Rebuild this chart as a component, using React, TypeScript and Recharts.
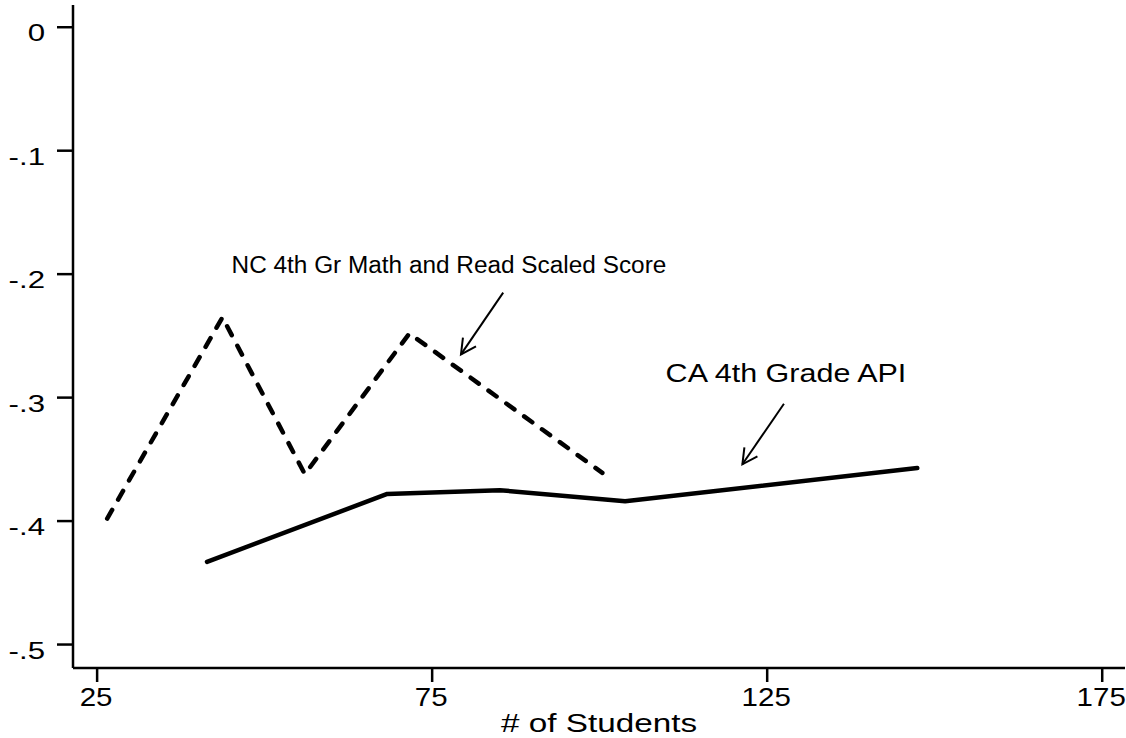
import { LineChart, Line, XAxis, YAxis, ReferenceLine, ReferenceDot } from 'recharts'

// # of students (x) vs. estimated effect (y)
const NC_X = [26.5, 43.7, 56.0, 71.6, 100.4]
const NC_Y = [-0.398, -0.235, -0.362, -0.248, -0.361]
const CA_X = [41.4, 68.3, 85.1, 103.8, 147.4]
const CA_Y = [-0.433, -0.378, -0.375, -0.384, -0.357]

const X_TICKS = [25, 75, 125, 175]
const Y_TICKS = [-0.5, -0.4, -0.3, -0.2, -0.1, 0]
const Y_TICK_LABELS = ['-.5', '-.4', '-.3', '-.2', '-.1', '0']

const NC_LABEL = 'NC 4th Gr Math and Read Scaled Score'
const CA_LABEL = 'CA 4th Grade API'
const X_TITLE = '# of Students'

const ncData = NC_X.map((x, i) => ({ x, y: NC_Y[i] }))
const caData = CA_X.map((x, i) => ({ x, y: CA_Y[i] }))

const FONT = '"Liberation Sans", Arial, Helvetica, sans-serif'

// the source graph has wide-set glyphs, so text is stretched horizontally
function WideText({ x, y, size, sx, anchor = 'middle', children }: any) {
  return (
    <text
      transform={`translate(${x},${y}) scale(${sx},1)`}
      textAnchor={anchor}
      fontSize={size}
      fill="#000"
      fontFamily={FONT}
    >
      {children}
    </text>
  )
}

function YTick({ x, y, payload }: any) {
  const i = Y_TICKS.findIndex((t) => Math.abs(t - payload.value) < 1e-9)
  return (
    <WideText x={x} y={y + 14} size={24} sx={1.3} anchor="end">
      {Y_TICK_LABELS[i]}
    </WideText>
  )
}

function XTick({ x, y, payload }: any) {
  return (
    <WideText x={x - 1} y={y + 24} size={25} sx={1.18}>
      {payload.value}
    </WideText>
  )
}

function Arrow(props: any) {
  const { x1, y1, x2, y2 } = props
  const ang = Math.atan2(y1 - y2, x1 - x2)
  const len = 17
  const spread = Math.PI / 6.5
  const ax = x2 + len * Math.cos(ang - spread)
  const ay = y2 + len * Math.sin(ang - spread)
  const bx = x2 + len * Math.cos(ang + spread)
  const by = y2 + len * Math.sin(ang + spread)
  return (
    <g>
      <line x1={x1} y1={y1} x2={x2} y2={y2} stroke="#000" strokeWidth={2} />
      <polyline points={`${ax},${ay} ${x2},${y2} ${bx},${by}`} fill="none" stroke="#000" strokeWidth={2} />
    </g>
  )
}

function makeLabel(text: string, size: number, sx: number) {
  return (props: any) => (
    <WideText x={props.cx} y={props.cy} size={size} sx={sx}>
      {text}
    </WideText>
  )
}

export default function App() {
  return (
    <div style={{ position: 'absolute', left: 0, top: 0, width: 1126, height: 738, background: '#fff' }}>
      <LineChart width={1126} height={738} margin={{ top: 5, right: 1, bottom: 6, left: 0 }}>
        <XAxis
          type="number"
          dataKey="x"
          domain={[21.4, 178.4]}
          ticks={X_TICKS}
          allowDataOverflow
          height={64}
          tickSize={14}
          tickMargin={0}
          axisLine={{ stroke: '#000', strokeWidth: 2.5 }}
          tickLine={{ stroke: '#000', strokeWidth: 2.5 }}
          tick={<XTick />}
          label={{
            content: (p: any) => {
              const vb = p.viewBox
              return (
                <WideText x={vb.x + vb.width / 2} y={vb.y + vb.height} size={26} sx={1.28}>
                  {X_TITLE}
                </WideText>
              )
            },
          }}
        />
        <YAxis
          type="number"
          domain={[-0.519, 0.018]}
          ticks={Y_TICKS}
          allowDataOverflow
          width={73}
          tickSize={16}
          tickMargin={12}
          axisLine={{ stroke: '#000', strokeWidth: 2.5 }}
          tickLine={{ stroke: '#000', strokeWidth: 2.5 }}
          tick={<YTick />}
        />
        <Line
          data={ncData}
          dataKey="y"
          type="linear"
          stroke="#000"
          strokeWidth={4.5}
          strokeDasharray="10 12"
          strokeLinecap="round"
          strokeLinejoin="round"
          dot={false}
          activeDot={false}
          isAnimationActive={false}
        />
        <Line
          data={caData}
          dataKey="y"
          type="linear"
          stroke="#000"
          strokeWidth={4.5}
          strokeLinecap="round"
          strokeLinejoin="round"
          dot={false}
          activeDot={false}
          isAnimationActive={false}
        />
        <ReferenceLine segment={[{ x: 85.6, y: -0.215 }, { x: 79.3, y: -0.265 }]} shape={Arrow} />
        <ReferenceLine segment={[{ x: 127.5, y: -0.305 }, { x: 121.3, y: -0.354 }]} shape={Arrow} />
        <ReferenceDot x={77.5} y={-0.199} r={0} shape={makeLabel(NC_LABEL, 23, 1.06)} />
        <ReferenceDot x={127.8} y={-0.287} r={0} shape={makeLabel(CA_LABEL, 25, 1.22)} />
      </LineChart>
    </div>
  )
}
